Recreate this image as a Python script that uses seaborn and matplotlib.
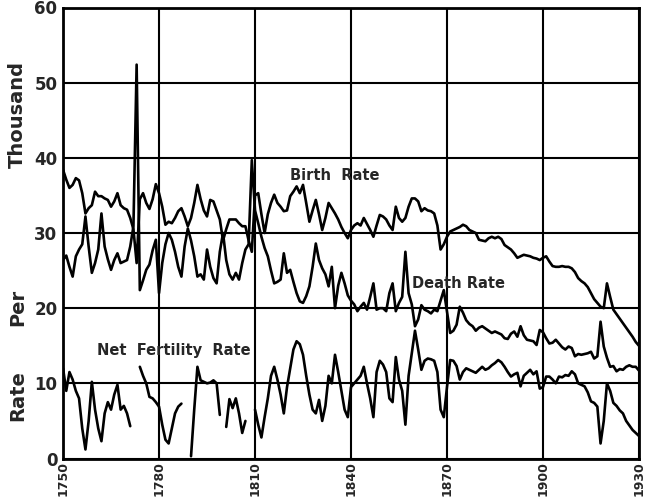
import numpy as np
import pandas as pd
import matplotlib
matplotlib.use("Agg")
import matplotlib.pyplot as plt
import seaborn as sns

# yearly values, 1750-1930 (per thousand)
years = list(range(1750, 1931))

birth_rate = [
    38.4, 37.1, 36.0, 36.4, 37.3, 37.0, 35.3, 32.6, 33.3, 33.7,   # 1750s
    35.5, 34.9, 34.9, 34.6, 34.4, 33.5, 34.2, 35.3, 33.7, 33.3,   # 1760s
    33.1, 32.0, 30.5, 26.0, 34.5, 35.3, 34.0, 33.2, 34.5, 36.5,   # 1770s
    35.3, 33.5, 31.1, 31.5, 31.3, 32.0, 32.9, 33.3, 32.2, 30.9,   # 1780s
    32.0, 34.0, 36.4, 34.5, 33.0, 32.2, 34.4, 34.2, 33.0, 31.8,   # 1790s
    29.0, 30.5, 31.8, 31.8, 31.8, 31.3, 30.9, 30.9, 29.0, 27.5,   # 1800s
    35.0, 35.3, 32.5, 30.0, 32.5, 34.0, 35.1, 34.0, 33.5, 32.9,   # 1810s
    33.0, 34.9, 35.5, 36.2, 35.3, 36.4, 34.0, 31.5, 33.0, 34.4,   # 1820s
    32.5, 30.4, 32.0, 34.0, 33.3, 32.6, 31.8, 30.8, 30.0, 29.3,   # 1830s
    30.4, 31.0, 31.3, 31.0, 32.0, 31.2, 30.4, 29.5, 31.0, 32.4,   # 1840s
    32.2, 31.8, 31.0, 30.4, 33.5, 32.0, 31.5, 32.0, 33.5, 34.6,   # 1850s
    34.6, 34.2, 32.9, 33.3, 33.0, 32.9, 32.6, 31.0, 27.8, 28.5,   # 1860s
    29.5, 30.2, 30.4, 30.6, 30.8, 31.1, 30.9, 30.4, 30.2, 30.0,   # 1870s
    29.1, 29.0, 28.9, 29.3, 29.5, 29.3, 29.5, 29.2, 28.4, 28.1,   # 1880s
    27.8, 27.3, 26.7, 26.9, 27.1, 27.0, 26.9, 26.7, 26.6, 26.4,   # 1890s
    26.7, 26.9, 26.2, 25.6, 25.5, 25.5, 25.6, 25.5, 25.5, 25.3,   # 1900s
    24.8, 24.0, 23.6, 23.3, 22.8, 22.0, 21.2, 20.7, 20.2, 20.0,   # 1910s
    23.3, 21.5, 19.8, 19.2, 18.6, 18.0, 17.4, 16.8, 16.2, 15.5,   # 1920s
    15.0,
]

death_rate = [
    26.4, 27.0, 25.5, 24.2, 26.9, 27.8, 28.5, 32.2, 28.2, 24.7,   # 1750s
    26.0, 27.8, 32.6, 28.2, 26.5, 25.1, 26.4, 27.3, 26.0, 26.2,   # 1760s
    26.4, 28.2, 30.9, 52.4, 22.4, 23.7, 25.1, 25.8, 27.7, 29.1,   # 1770s
    22.0, 26.0, 28.5, 30.0, 29.1, 27.5, 25.5, 24.2, 28.2, 30.6,   # 1780s
    29.0, 26.9, 24.2, 24.5, 23.8, 27.8, 25.5, 24.0, 23.3, 27.5,   # 1790s
    30.0, 26.4, 24.5, 23.8, 24.7, 23.8, 26.0, 27.8, 28.5, 39.7,   # 1800s
    33.0, 31.3, 29.5, 28.0, 26.9, 25.0, 23.3, 23.5, 23.8, 27.3,   # 1810s
    24.7, 25.1, 23.5, 22.0, 20.9, 20.7, 21.6, 22.9, 25.5, 28.6,   # 1820s
    26.4, 25.3, 24.5, 22.9, 25.5, 20.0, 23.0, 24.7, 23.3, 21.7,   # 1830s
    21.0, 20.5, 19.6, 20.2, 20.7, 19.8, 21.5, 23.3, 19.8, 20.0,   # 1840s
    20.0, 19.6, 22.0, 23.3, 19.6, 20.7, 21.5, 27.5, 22.0, 20.5,   # 1850s
    17.6, 18.5, 20.4, 19.8, 19.6, 19.3, 19.8, 19.6, 21.0, 22.4,   # 1860s
    19.5, 16.7, 17.0, 17.8, 20.2, 19.4, 18.4, 17.9, 17.6, 17.0,   # 1870s
    17.4, 17.6, 17.3, 17.0, 16.7, 16.9, 16.7, 16.5, 16.0, 15.9,   # 1880s
    16.6, 16.9, 16.2, 17.6, 16.4, 15.8, 15.7, 15.6, 15.1, 17.1,   # 1890s
    16.8, 16.0, 15.3, 15.4, 15.8, 15.3, 14.8, 14.5, 14.9, 14.7,   # 1900s
    13.6, 13.9, 13.8, 13.9, 14.0, 14.2, 13.3, 13.6, 18.2, 14.9,   # 1910s
    13.4, 12.2, 12.3, 11.6, 11.9, 11.8, 12.2, 12.4, 12.2, 12.2,   # 1920s
    11.7,
]

# None = no line drawn for that year in the original
net_fertility = [
    12.0, 9.0, 11.5, 10.5, 9.0, 8.0, 4.0, 1.2, 5.0, 10.2,          # 1750s
    6.5, 4.0, 2.3, 6.0, 7.5, 6.5, 8.5, 9.8, 6.5, 7.0,              # 1760s
    6.0, 4.3, None, None, 12.2, 11.0, 10.0, 8.2, 8.0, 7.5,         # 1770s
    6.9, 4.5, 2.5, 2.0, 4.0, 6.0, 6.9, 7.3, None, None,            # 1780s
    0.3, 6.5, 12.2, 10.4, 10.2, 10.0, 10.1, 10.4, 10.0, 5.8,       # 1790s
    None, 4.2, 7.9, 6.7, 8.0, 6.0, 3.4, 5.0, None, None,           # 1800s
    6.5, 4.5, 2.8, 5.5, 8.0, 11.0, 12.2, 10.5, 8.5, 6.0,           # 1810s
    9.5, 12.0, 14.5, 15.6, 15.2, 13.8, 11.0, 8.5, 6.5, 6.0,        # 1820s
    7.8, 5.0, 7.0, 11.0, 10.0, 13.8, 11.5, 9.0, 6.5, 5.5,          # 1830s
    9.5, 10.0, 10.5, 11.0, 12.2, 10.0, 8.0, 5.5, 11.5, 13.0,       # 1840s
    12.5, 11.5, 8.0, 7.5, 13.5, 10.5, 9.0, 4.5, 11.0, 14.0,        # 1850s
    17.0, 14.5, 11.8, 13.0, 13.3, 13.2, 13.0, 11.5, 6.5, 5.5,      # 1860s
    9.5, 13.1, 13.0, 12.3, 10.5, 11.5, 12.0, 11.8, 11.6, 11.4,     # 1870s
    11.8, 12.2, 11.8, 12.0, 12.4, 12.7, 13.1, 12.8, 12.2, 11.5,    # 1880s
    10.9, 11.2, 11.4, 9.6, 11.0, 11.4, 11.8, 11.2, 11.6, 9.3,      # 1890s
    9.5, 10.9, 10.9, 10.5, 10.0, 10.9, 10.8, 11.1, 11.0, 11.6,     # 1900s
    11.2, 10.0, 9.8, 9.6, 8.8, 7.6, 7.4, 6.9, 2.0, 5.0,            # 1910s
    10.0, 9.0, 7.4, 7.0, 6.4, 6.0, 5.0, 4.4, 3.8, 3.4,             # 1920s
    3.0,
]

year_ticks = [1750, 1780, 1810, 1840, 1870, 1900, 1930]
rate_ticks = [0, 10, 20, 30, 40, 50, 60]

df = pd.DataFrame({"Year": years, "Birth": birth_rate, "Death": death_rate,
                   "Net": pd.array(net_fertility, dtype="Float64").astype(float)})

# net fertility has breaks, give each unbroken run its own id
df["seg"] = df["Net"].isna().cumsum()
net_df = df.dropna(subset=["Net"])

sns.set_style("white")
plt.rcParams["font.family"] = ["DejaVu Sans"]

fig = plt.figure(figsize=(6.5, 5), dpi=100)
ax = fig.add_axes([0.097, 0.083, 0.886, 0.902])

lw = 1.9
sns.lineplot(data=df, x="Year", y="Birth", color="black", linewidth=lw, ax=ax)
sns.lineplot(data=df, x="Year", y="Death", color="black", linewidth=lw, ax=ax)
sns.lineplot(data=net_df, x="Year", y="Net", units="seg", estimator=None,
             color="black", linewidth=lw, ax=ax)

ax.set_xlim(1750, 1930)
ax.set_ylim(0, 60)
ax.set_xticks(year_ticks)
ax.set_yticks(rate_ticks)
ax.set_xticklabels([str(y) for y in year_ticks], rotation=90,
                   fontsize=9, fontweight="bold")
ax.set_yticklabels([str(v) for v in rate_ticks], fontsize=12, fontweight="bold")
ax.tick_params(axis="x", length=0, pad=2)
ax.tick_params(axis="y", length=0, pad=4)
ax.grid(True, color="black", linewidth=1.5)
ax.set_axisbelow(True)
for s in ax.spines.values():
    s.set_color("black")
    s.set_linewidth(2)
ax.set_xlabel("")
ax.set_ylabel("")

# labels on the curves
ax.text(1821, 37.6, "Birth  Rate", fontsize=10.5, fontweight="bold", va="center")
ax.text(1859, 23.3, "Death Rate", fontsize=10.5, fontweight="bold", va="center")
ax.text(1760.5, 14.4, "Net  Fertility  Rate", fontsize=10.5, fontweight="bold",
        va="center")

# vertical axis title, spread out as in the original
fig.text(0.027, 1 - 396 / 500, "Rate", rotation=90, fontsize=14,
         fontweight="bold", ha="center", va="center")
fig.text(0.027, 1 - 307 / 500, "Per", rotation=90, fontsize=14,
         fontweight="bold", ha="center", va="center")
fig.text(0.027, 1 - 114 / 500, "Thousand", rotation=90, fontsize=14,
         fontweight="bold", ha="center", va="center")

fig.savefig("out.png", dpi=100, facecolor="white")
